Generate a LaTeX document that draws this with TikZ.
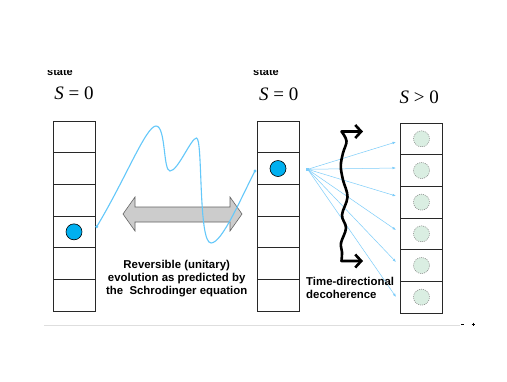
\documentclass[tikz,border=0pt]{standalone}
\usepackage{fontspec}
\setmainfont{Liberation Serif}
\setsansfont{Liberation Sans}
\usetikzlibrary{arrows.meta}
\definecolor{cellline}{RGB}{40,40,40}
\definecolor{ballblue}{RGB}{0,176,240}
\definecolor{wavecol}{RGB}{100,200,250}
\definecolor{fancol}{RGB}{125,205,250}
\definecolor{ghost}{RGB}{218,238,226}
\definecolor{arrowgray}{RGB}{204,204,204}
\definecolor{arrowedge}{RGB}{100,100,100}
\definecolor{rulecol}{RGB}{222,222,222}
\begin{document}
\begin{tikzpicture}[x=1pt,y=-1pt,
  cell/.style={draw=cellline,line width=1pt,minimum width=42pt,minimum height=31.67pt,inner sep=0pt,outer sep=0pt},
  ball/.style={circle,draw=black,line width=0.6pt,fill=ballblue,minimum size=16pt,inner sep=0pt},
  ghostball/.style={circle,draw=gray,dash pattern=on 1pt off 1pt,line width=0.5pt,fill=ghost,minimum size=16pt,inner sep=0pt},
  statelbl/.style={font=\sffamily\bfseries\fontsize{11}{11}\selectfont,inner sep=0pt},
  eqlbl/.style={font=\fontsize{19}{19}\selectfont,inner sep=0pt,anchor=base},
  caption/.style={font=\sffamily\bfseries\fontsize{11.4}{12.6}\selectfont,inner sep=0pt},
  fanarrow/.style={draw=fancol,line width=0.5pt,-{Latex[length=3.5pt,width=2.6pt]}},
  wavyarrow/.style={line width=2.6pt,line join=round,{Straight Barb[length=6pt,width=13pt]}-{Straight Barb[length=6pt,width=13pt]}}]
\useasboundingbox (0,0) rectangle (507,381);
\fill[white] (0,0) rectangle (507,381);

% clipped "state" labels
\begin{scope}
\clip (0,70) rectangle (507,381);
\node[statelbl,anchor=base] (st1) at (60,75) {state};
\node[statelbl,anchor=base] (st2) at (266,75) {state};
\end{scope}

% entropy labels
\node[eqlbl] (eq1) at (74,99.3) {\textit{S} = 0};
\node[eqlbl] (eq2) at (278.8,100) {\textit{S} = 0};
\node[eqlbl] (eq3) at (419.3,103.3) {\textit{S} {>} 0};

% columns of cells
\foreach \i in {1,...,6}{
  \node[cell] (L\i) at (74,{121+31.67*(\i-0.5)}) {};
  \node[cell] (M\i) at (278,{121+31.67*(\i-0.5)}) {};
  \node[cell] (R\i) at (421.5,{123+31.67*(\i-0.5)}) {};
  \node[ghostball] (g\i) at (R\i) {};
}
\node[ball] (b1) at (L4) {};
\node[ball] (b2) at (M2) {};

% gray double arrow
\node[inner sep=0pt] (dbl) at (182.5,214) {};
\filldraw[fill=arrowgray,draw=arrowedge,line width=0.6pt]
  (123,214) -- (135,197) -- (135,207) -- (230,207) -- (230,197) -- (242,214)
  -- (230,231) -- (230,222) -- (135,222) -- (135,231) -- cycle;

% wave
\coordinate (ws) at (96.7,226.7);
\coordinate (we) at (255,171);
\draw[wavecol,line width=1.1pt] (ws) .. controls (125,180) and (146,126) .. (156,126)
  .. controls (166,126) and (163,171) .. (170,171)
  .. controls (178,171) and (191,138) .. (196.5,138)
  .. controls (203,138) and (198,243) .. (211,243)
  .. controls (222,243) and (240,200) .. (we);
\fill[wavecol] (ws) circle (1.6);
\fill[wavecol] (we) circle (1.6);

% fan of decoherence arrows
\coordinate (src) at (307.7,169.3);
\fill[fancol] (306.2,167.8) rectangle (309.2,170.8);
\foreach \y [count=\k] in {142,168,196,230,262,297}{
  \coordinate (t\k) at (396,\y);
  \draw[fanarrow] (src) -- (t\k);
}

% time-directional wavy arrow
\coordinate (wt) at (363,131.5);
\coordinate (wb) at (363,261);
\draw[wavyarrow] (wt) -- plot[smooth,tension=0.6] coordinates {(341.5,131.5) (346.5,141) (343,153) (340.8,166) (343,180) (347.5,197) (342,215) (346,228) (341,243) (342,252) (341.5,261)} -- (wb);

% captions
\node[caption,align=center,anchor=north] (cap1) at (176.7,260.5)
  {Reversible (unitary)\\evolution as predicted by\\the\ \ Schrodinger equation};
\node[caption,align=left,anchor=north west] (cap2) at (306,277)
  {Time-directional\\decoherence};

% bottom rule and marks
\coordinate (r1) at (44,325);
\coordinate (r2) at (460,325);
\draw[rulecol,line width=0.8pt] (r1) -- (r2);
\draw[line width=0.8pt] (461,324.5) -- (463.5,324.5);
\draw[line width=0.7pt] (471.5,324) -- (474.5,324) (473,322.5) -- (473,325.5);
\end{tikzpicture}
\end{document}
